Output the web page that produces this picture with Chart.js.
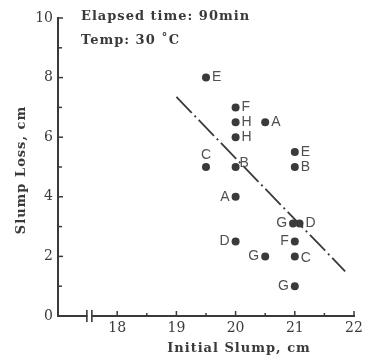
<!DOCTYPE html>
<html>
<head>
<meta charset="utf-8">
<script src="https://cdn.jsdelivr.net/npm/chart.js@4.4.1/dist/chart.umd.min.js"></script>
<style>
  html, body { margin: 0; padding: 0; background: #fff; }
  #wrap { width: 372px; height: 359px; }
</style>
</head>
<body>
<div id="wrap"><canvas id="slumpChart" width="372" height="359"></canvas></div>
<script>
// mix codes, initial slump (cm) and slump loss after 90 min (cm)
const mixCodes     = ['E', 'F', 'H', 'A', 'H', 'E', 'B', 'C', 'B', 'A', 'G', 'D', 'F', 'D', 'G', 'C', 'G'];
const initialSlump = [19.5, 20, 20, 20.5, 20, 21, 21, 19.5, 20, 20, 20.97, 21.08, 21, 20, 20.5, 21, 21];
const slumpLoss    = [8, 7, 6.5, 6.5, 6, 5.5, 5, 5, 5, 4, 3.1, 3.1, 2.5, 2.5, 2, 2, 1];
// which side of the dot each letter sits on
const labelSide    = ['r', 'r', 'r', 'r', 'r', 'r', 'r', 't', 'tr', 'l', 'l', 'r', 'l', 'l', 'l', 'br', 'l'];

// fitted trend line ends
const trendX = [19.0, 21.85];
const trendY = [7.35, 1.5];

const xTickValues = [18, 19, 20, 21, 22];
const yTickValues = [0, 2, 4, 6, 8, 10];
const notes = ['Elapsed time: 90min', 'Temp: 30 \u02DAC'];

const ink = '#3a3a3a';
const serif = '"DejaVu Serif", serif';

const points = initialSlump.map((x, i) => ({ x: x, y: slumpLoss[i] }));
const trend = trendX.map((x, i) => ({ x: x, y: trendY[i] }));

const extras = {
    id: 'extras',
    afterDatasetsDraw(chart) {
        const ctx = chart.ctx;
        const meta = chart.getDatasetMeta(0);
        ctx.save();
        ctx.fillStyle = '#505050';
        ctx.font = '14px "Liberation Sans", Arial, sans-serif';
        ctx.textBaseline = 'middle';
        meta.data.forEach((pt, i) => {
            const side = labelSide[i];
            let tx = pt.x, ty = pt.y;
            if (side === 'r') { ctx.textAlign = 'left'; tx += 6; }
            else if (side === 'l') { ctx.textAlign = 'right'; tx -= 6; }
            else if (side === 't') { ctx.textAlign = 'center'; ty -= 12; }
            else if (side === 'tr') { ctx.textAlign = 'left'; tx += 4; ty -= 4; }
            else if (side === 'br') { ctx.textAlign = 'left'; tx += 6; ty += 2; }
            ctx.fillText(mixCodes[i], tx, ty);
        });
        ctx.restore();
    },
    afterDraw(chart) {
        const ctx = chart.ctx;
        const xs = chart.scales.x, ys = chart.scales.y;
        const area = chart.chartArea;
        ctx.save();
        ctx.strokeStyle = ink;
        ctx.lineWidth = 1.5;
        // inward ticks on x axis
        xs.ticks.forEach(t => {
            if (t.value < 18) return;
            const px = xs.getPixelForValue(t.value);
            const len = Number.isInteger(t.value) ? 5 : 3;
            ctx.beginPath();
            ctx.moveTo(px, area.bottom);
            ctx.lineTo(px, area.bottom - len);
            ctx.stroke();
        });
        // inward ticks on y axis
        ys.ticks.forEach(t => {
            if (t.value === 0) return;
            const py = ys.getPixelForValue(t.value);
            const len = t.value % 2 === 0 ? 5 : 4;
            ctx.beginPath();
            ctx.moveTo(area.left, py);
            ctx.lineTo(area.left + len, py);
            ctx.stroke();
        });
        // axis break
        const bx = xs.getPixelForValue(17.53);
        ctx.fillStyle = '#fff';
        ctx.fillRect(bx - 2, area.bottom - 3, 4, 6);
        ctx.lineWidth = 1.6;
        [bx - 2.5, bx + 2.5].forEach(px => {
            ctx.beginPath();
            ctx.moveTo(px, area.bottom - 6);
            ctx.lineTo(px, area.bottom + 6);
            ctx.stroke();
        });
        // axis titles
        ctx.fillStyle = ink;
        ctx.font = 'bold 13px ' + serif;
        ctx.letterSpacing = '1px';
        ctx.textAlign = 'center';
        ctx.textBaseline = 'middle';
        ctx.fillText('Initial Slump, cm', 239, 349);
        ctx.save();
        ctx.translate(22, 170);
        ctx.rotate(-Math.PI / 2);
        ctx.fillText('Slump Loss, cm', 0, 0);
        ctx.restore();
        // notes
        ctx.textAlign = 'left';
        ctx.fillText(notes[0], 81, 17);
        ctx.fillText(notes[1], 81, 41);
        ctx.restore();
    }
};

const ctx = document.getElementById('slumpChart').getContext('2d');
const slumpChart = new Chart(ctx, {
    type: 'scatter',
    data: {
        datasets: [{
            label: 'Mixes',
            data: points,
            backgroundColor: ink,
            borderWidth: 0,
            pointRadius: 4,
            pointHoverRadius: 4
        }, {
            type: 'line',
            label: 'Trend',
            data: trend,
            borderColor: ink,
            borderWidth: 1.8,
            borderDash: [22, 4, 2, 4],
            pointRadius: 0,
            fill: false
        }]
    },
    options: {
        responsive: false,
        animation: false,
        layout: { padding: { top: 18, right: 18, left: 0, bottom: 0 } },
        plugins: {
            legend: { display: false },
            tooltip: { enabled: false }
        },
        scales: {
            x: {
                type: 'linear',
                min: 17,
                max: 22,
                afterFit: s => { s.height = 43; },
                afterBuildTicks: s => {
                    s.ticks = [];
                    for (let v = 17; v <= 22.001; v += 0.5) s.ticks.push({ value: v });
                },
                ticks: {
                    autoSkip: false,
                    maxRotation: 0,
                    padding: 4,
                    color: ink,
                    font: { family: serif, size: 14 },
                    callback: v => xTickValues.includes(v) ? String(v) : ''
                },
                grid: { display: true, drawOnChartArea: false, drawTicks: false, color: 'rgba(0,0,0,0)' },
                border: { display: true, color: ink, width: 2 }
            },
            y: {
                min: 0,
                max: 10,
                afterFit: s => { s.width = 58; },
                ticks: {
                    stepSize: 1,
                    autoSkip: false,
                    padding: 5,
                    color: ink,
                    font: { family: serif, size: 14 },
                    callback: v => yTickValues.includes(v) ? String(v) : ''
                },
                grid: { display: true, drawOnChartArea: false, drawTicks: false, color: 'rgba(0,0,0,0)' },
                border: { display: true, color: ink, width: 2 }
            }
        }
    },
    plugins: [extras]
});
</script>
</body>
</html>
